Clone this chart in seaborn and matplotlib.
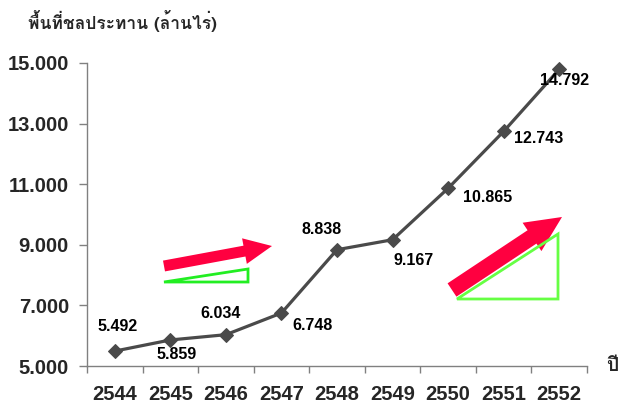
import matplotlib
matplotlib.use("Agg")
import matplotlib.pyplot as plt
import seaborn as sns
from matplotlib.patches import FancyArrow, Polygon

years = ["2544", "2545", "2546", "2547", "2548", "2549", "2550", "2551", "2552"]
area = [5.492, 5.859, 6.034, 6.748, 8.838, 9.167, 10.865, 12.743, 14.792]
value_labels = ["5.492", "5.859", "6.034", "6.748", "8.838", "9.167", "10.865", "12.743", "14.792"]
y_ticks = [5, 7, 9, 11, 13, 15]
y_tick_labels = ["5.000", "7.000", "9.000", "11.000", "13.000", "15.000"]
title_text = "พื้นที่ชลประทาน (ล้านไร่)"
x_title = "ปี"

sns.set_style("white")
plt.rcParams["font.family"] = ["Liberation Sans", "DejaVu Sans"]

fig = plt.figure(figsize=(6.22, 4.07), dpi=100)
ax = fig.add_axes([87/622, 41/407, 500/622, (366-63)/407])

sns.lineplot(x=list(range(len(years))), y=area, ax=ax, color="#4a4a4a", linewidth=2.3,
             marker="D", markersize=7.5, markeredgecolor="#4a4a4a", clip_on=False)

ax.set_xlim(-0.5, len(years) - 0.5)
ax.set_ylim(5, 15)
ax.set_xticks([i - 0.5 for i in range(len(years) + 1)])
ax.set_xticklabels([])
ax.set_xticks(list(range(len(years))), minor=True)
ax.set_xticklabels(years, minor=True, fontsize=14.5, fontweight="bold")
ax.tick_params(axis="x", which="minor", length=0, pad=14)
ax.tick_params(axis="x", which="major", length=5, width=1, color="#808080", direction="out")
ax.set_yticks(y_ticks)
ax.set_yticklabels(y_tick_labels, fontsize=14.5, fontweight="bold")
ax.tick_params(axis="y", length=6, width=1, color="#808080", direction="out", pad=7)
ax.tick_params(bottom=True, left=True)
for s in ["top", "right"]:
    ax.spines[s].set_visible(False)
for s in ["left", "bottom"]:
    ax.spines[s].set_color("#808080")
    ax.spines[s].set_linewidth(1)
ax.set_xlabel("")
ax.set_ylabel("")

offsets = [(3, 25), (6, -15), (-5, 21), (31, -12), (-15, 20), (21, -21), (40, -9), (35, -7), (5, -11)]
for i, (v, lab) in enumerate(zip(area, value_labels)):
    ax.annotate(lab, (i, v), xytext=offsets[i], textcoords="offset pixels",
                ha="center", va="center", fontsize=11.5, fontweight="bold", color="black",
                annotation_clip=False)

tf = ["Loma", "DejaVu Sans"]
fig.text(28/622, 1 - 21/407, title_text, family=tf, fontsize=12.5, fontweight="bold", ha="left", va="center")
fig.text(612/622, 1 - 366/407, x_title, family=tf, fontsize=14, fontweight="bold", ha="center", va="center")

def P(x, y):
    return (x/622, 1 - y/407)

tr = fig.transFigure
fig.patches.append(Polygon([P(164, 282), P(248, 269), P(248, 282)], closed=True, fill=False,
                           edgecolor="#22ee22", linewidth=2, transform=tr))
fig.patches.append(Polygon([P(457, 299), P(558, 234), P(558, 299)], closed=True, fill=False,
                           edgecolor="#66ff44", linewidth=2, transform=tr))

fig.add_artist(FancyArrow(164, 407 - 266, 108, 20, width=11, head_width=26, head_length=28,
                          length_includes_head=True, color="#ff0040", linewidth=0, transform=None))
fig.add_artist(FancyArrow(452, 407 - 290, 110, 73, width=16, head_width=34, head_length=36,
                          length_includes_head=True, color="#ff0040", linewidth=0, transform=None))

fig.savefig("out.png", dpi=100)
